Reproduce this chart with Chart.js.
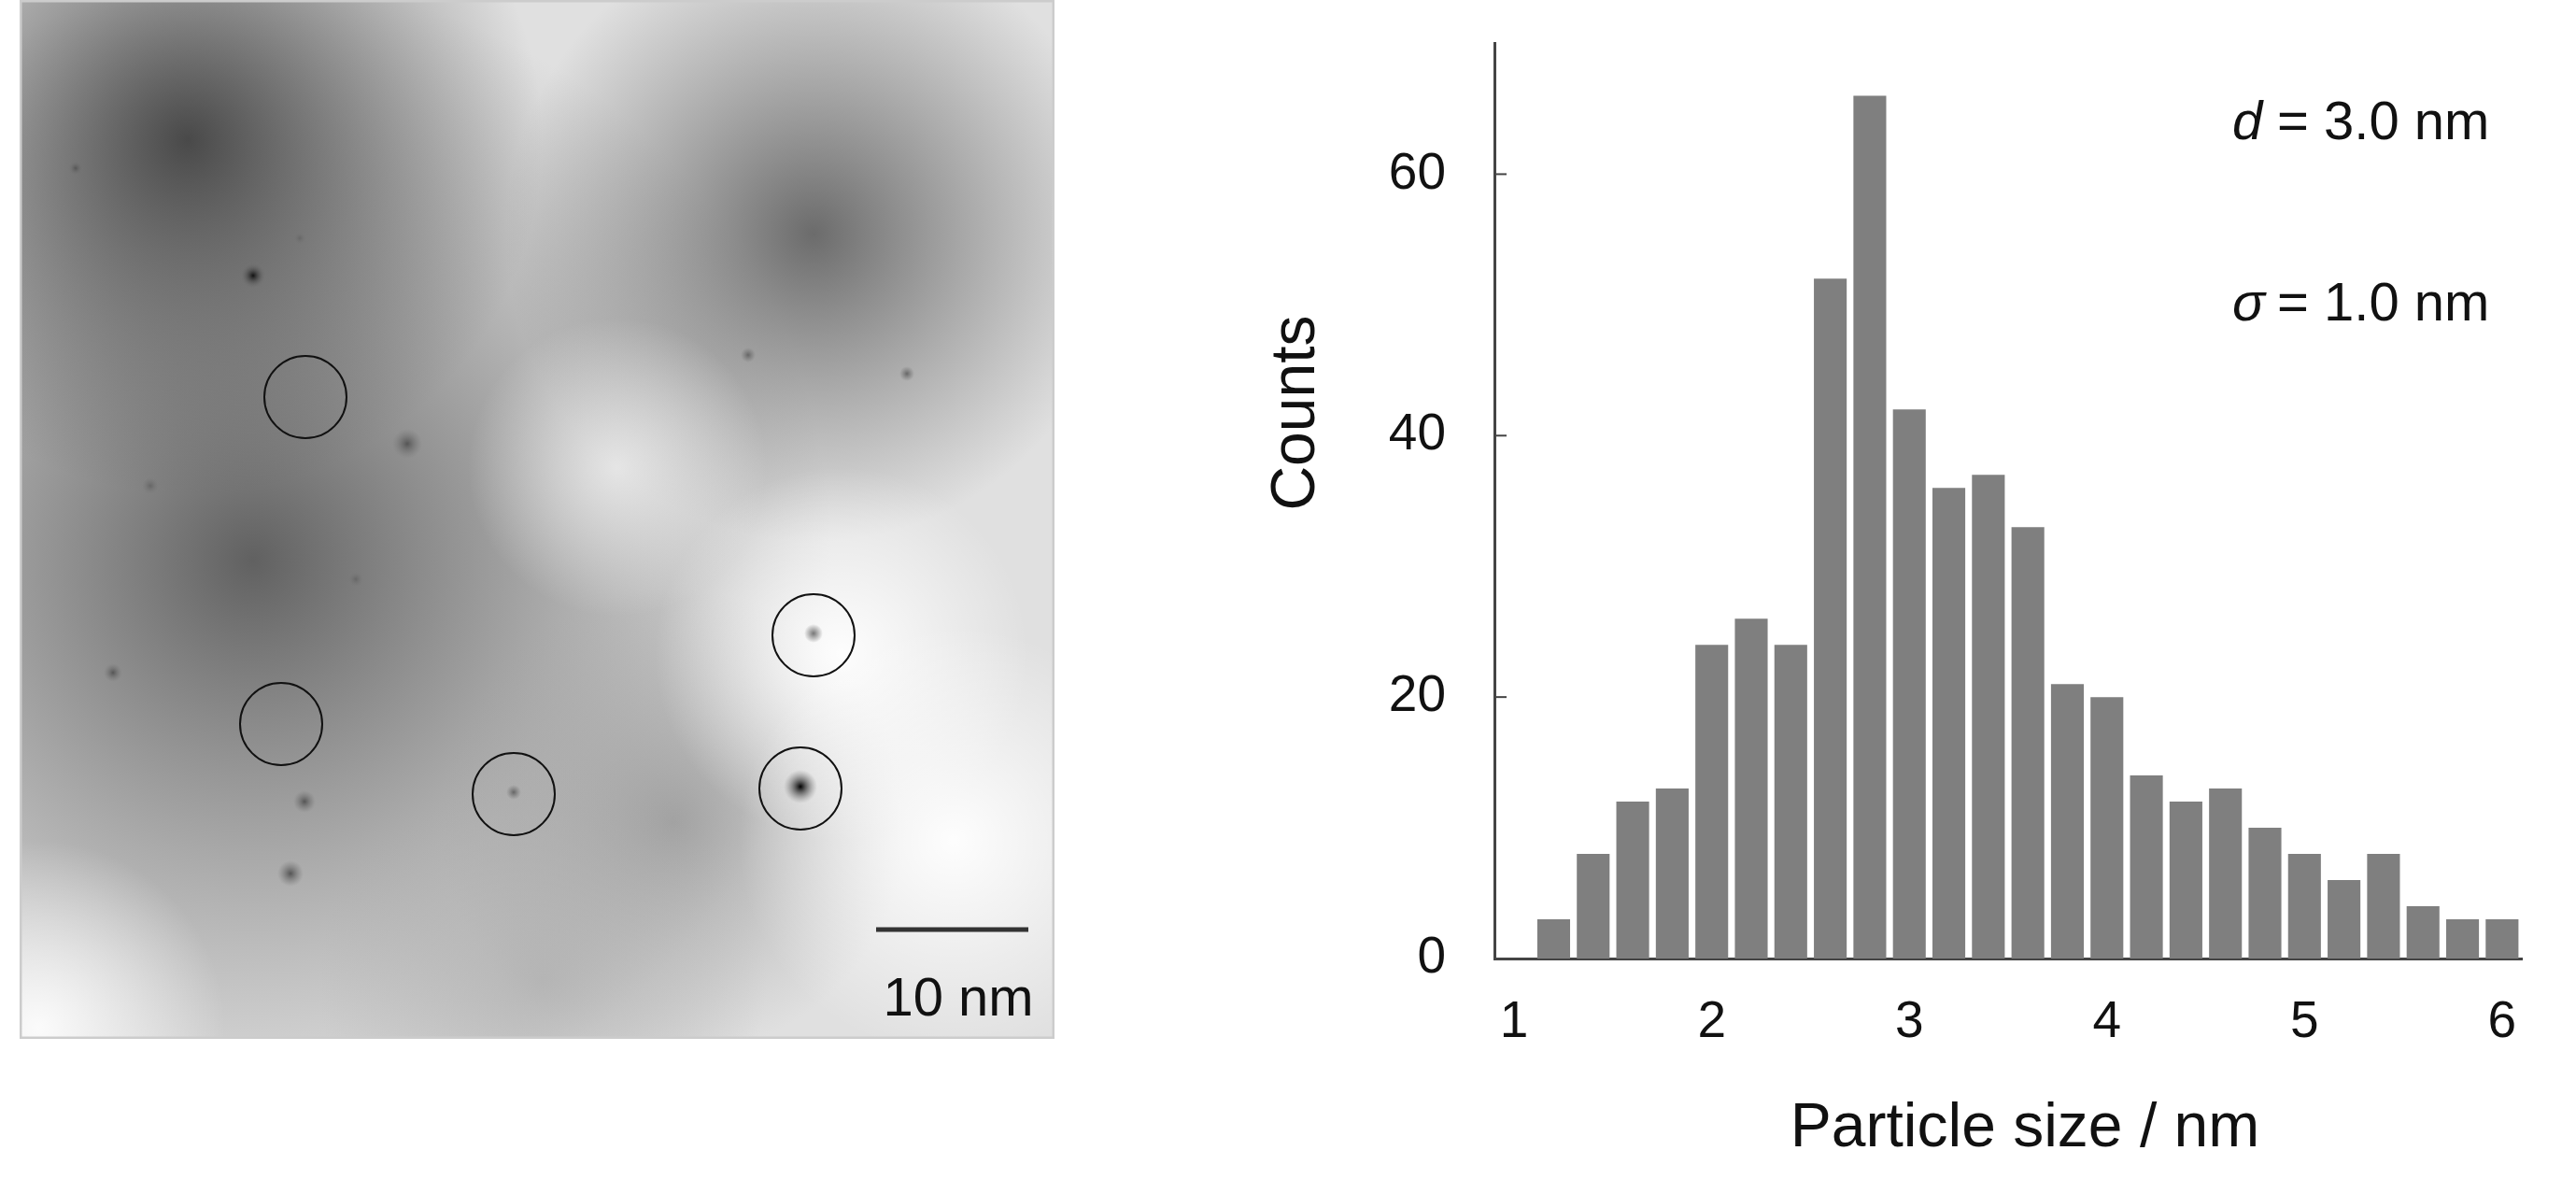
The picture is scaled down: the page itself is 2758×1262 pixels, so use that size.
<!DOCTYPE html>
<html><head><meta charset="utf-8">
<script src="https://cdn.jsdelivr.net/npm/chart.js@4/dist/chart.umd.min.js"></script>
<style>
html,body{margin:0;padding:0;background:#fff;overflow:hidden;}
#wrap{position:relative;width:2758px;height:1262px;overflow:hidden;}
#photo{position:absolute;left:21px;top:0px;}
#c{position:absolute;left:0;top:-11px;}
</style></head><body>
<div id="wrap">
<canvas id="photo" width="1108" height="1112"></canvas>
<canvas id="c" width="2758" height="1273"></canvas>
</div>
<script>
const sizes = [1.2,1.4,1.6,1.8,2.0,2.2,2.4,2.6,2.8,3.0,3.2,3.4,3.6,3.8,4.0,4.2,4.4,4.6,4.8,5.0,5.2,5.4,5.6,5.8,6.0];
const counts = [3,8,12,13,24,26,24,52,66,42,36,37,33,21,20,14,12,13,10,8,6,8,4,3,3];
const xTicks = [1,2,3,4,5,6];
const yTicks = [0,20,40,60];
const notes = [" = 3.0 nm"," = 1.0 nm"];

(function(){
  const p=document.getElementById('photo').getContext('2d');
  const W=1108,H=1112;
  p.fillStyle='#e0e0e0';p.fillRect(0,0,W,H);
  function blob(x,y,r,c0,c1){const g=p.createRadialGradient(x,y,0,x,y,r);g.addColorStop(0,c0);g.addColorStop(1,c1);p.fillStyle=g;p.beginPath();p.arc(x,y,r,0,Math.PI*2);p.fill();}
  blob(250,600,620,'rgba(90,90,90,0.95)','rgba(120,120,120,0)');
  blob(180,150,380,'rgba(60,60,60,0.9)','rgba(80,80,80,0)');
  blob(850,250,330,'rgba(95,95,95,0.9)','rgba(110,110,110,0)');
  blob(700,880,250,'rgba(150,150,150,0.8)','rgba(160,160,160,0)');
  blob(560,1050,240,'rgba(170,170,170,0.7)','rgba(170,170,170,0)');
  blob(880,700,200,'rgba(255,255,255,0.95)','rgba(255,255,255,0)');
  blob(1000,900,230,'rgba(255,255,255,0.95)','rgba(255,255,255,0)');
  blob(640,500,160,'rgba(240,240,240,0.8)','rgba(240,240,240,0)');
  blob(20,1100,200,'rgba(255,255,255,0.9)','rgba(255,255,255,0)');
  const dots=[[250,295,14,'#111'],[415,475,16,'#555'],[305,858,12,'#555'],[529,848,8,'#666'],[836,842,18,'#000'],[850,678,10,'#777'],[290,935,14,'#555'],[100,720,10,'#555'],[60,180,8,'#555'],[300,255,7,'#666'],[780,380,8,'#666'],[950,400,8,'#666'],[140,520,9,'#666'],[360,620,8,'#666']];
  dots.forEach(d=>blob(d[0],d[1],d[2],d[3],'rgba(120,120,120,0)'));
  p.strokeStyle='#111';p.lineWidth=2;
  [[306,425],[280,775],[529,850],[850,680],[836,844]].forEach(c=>{p.beginPath();p.arc(c[0],c[1],44,0,Math.PI*2);p.stroke();});
  p.strokeStyle='#333';p.lineWidth=5;p.beginPath();p.moveTo(917,995);p.lineTo(1080,995);p.stroke();
  p.fillStyle='#111';p.font='58px "Liberation Sans", Arial';p.textAlign='center';p.textBaseline='middle';p.fillText('10 nm',1005,1071);
  p.strokeStyle='#ccc';p.lineWidth=3;p.strokeRect(1,1,W-2,H-2);
})();

const FONT='"Liberation Sans", Arial, sans-serif';
const OFF=11;
const extras={id:'extras',afterDraw(ch){
  const c=ch.ctx,x=ch.scales.x,y=ch.scales.y;
  c.save();
  c.strokeStyle='#444';c.lineWidth=2;
  yTicks.forEach(v=>{const py=y.getPixelForValue(v);c.beginPath();c.moveTo(x.left,py);c.lineTo(x.left+13,py);c.stroke();});
  c.fillStyle='#111';c.textBaseline='middle';
  c.font='66px '+FONT;c.textAlign='center';
  c.fillText('Particle size / nm',2168,1209+OFF);
  c.save();c.translate(1389,442+OFF);c.rotate(-Math.PI/2);c.fillText('Counts',0,0);c.restore();
  c.textAlign='left';
  c.font='italic 58px '+FONT;c.fillText('d',2390,133+OFF);
  c.fillText('\u03c3',2390,327+OFF);
  c.font='58px '+FONT;c.fillText(notes[0],2422,133+OFF);c.fillText(notes[1],2422,327+OFF);
  c.restore();
}};

new Chart(document.getElementById('c'),{
  type:'bar',
  data:{datasets:[{data:sizes.map((s,i)=>({x:s,y:counts[i]})),backgroundColor:'#7f7f7f',borderWidth:0,barPercentage:0.83,categoryPercentage:1}]},
  options:{responsive:false,animation:false,
    layout:{padding:{left:1389,right:58,top:30,bottom:0}},
    plugins:{legend:{display:false},tooltip:{enabled:false}},
    scales:{
      x:{type:'linear',min:0.9,max:6.1,offset:false,
        afterBuildTicks:s=>{s.ticks=xTicks.map(v=>({value:v}));},
        afterFit:s=>{s.height=236;},
        grid:{display:false,drawTicks:false},border:{color:'#444',width:3},
        ticks:{color:'#111',font:{size:55,family:FONT},padding:36,maxRotation:0}},
      y:{min:0,max:70,
        afterBuildTicks:s=>{s.ticks=yTicks.map(v=>({value:v}));},
        afterFit:s=>{s.width=211;},
        grid:{display:false,drawTicks:false},border:{color:'#444',width:3},
        ticks:{color:'#111',font:{size:55,family:FONT,lineHeight:0.2},padding:52}}
    }},
  plugins:[extras]
});
</script></body></html>
